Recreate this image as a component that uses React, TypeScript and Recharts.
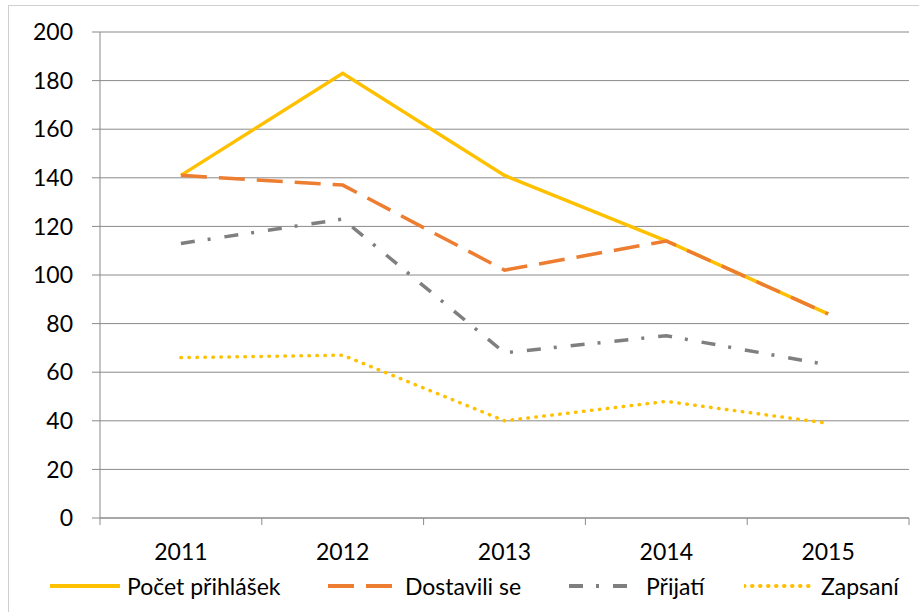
import React from 'react'
import { LineChart, Line, XAxis, YAxis, CartesianGrid } from 'recharts'

const years = ['2011', '2012', '2013', '2014', '2015']
const prihlasky = [141, 183, 141, 114, 84]
const dostavili = [141, 137, 102, 114, 84]
const prijati = [113, 123, 68, 75, 63]
const zapsani = [66, 67, 40, 48, 39]
const yTicks = [0, 20, 40, 60, 80, 100, 120, 140, 160, 180, 200]

const W = 919
const H = 612
const FONT = 'Lato, "Open Sans", sans-serif'
const FS = 23
const AXIS = '#8a8a8a'

const SERIES = [
  { key: 'prihlasky', label: 'Počet přihlášek', color: '#FFC000', dash: undefined, cap: 'butt' },
  { key: 'dostavili', label: 'Dostavili se', color: '#ED7D31', dash: '26 12', cap: 'butt' },
  { key: 'prijati', label: 'Přijatí', color: '#7F7F7F', dash: '14 13 3 14', cap: 'butt' },
  { key: 'zapsani', label: 'Zapsaní', color: '#FFC000', dash: '0.5 7.5', cap: 'round' },
] as const

const rows = years.map((y, i) => ({
  year: y,
  prihlasky: prihlasky[i],
  dostavili: dostavili[i],
  prijati: prijati[i],
  zapsani: zapsani[i],
}))

// plot spans x 100..909, so each category band is 161.8 wide
const PLOT_L = 100
const PLOT_R = 909
const HALF_BAND = (PLOT_R - PLOT_L) / years.length / 2

function YearTick({ x, y, payload, index }: any) {
  const last = index === years.length - 1
  return (
    <g>
      <line x1={x - HALF_BAND} y1={y} x2={x - HALF_BAND} y2={y + 7} stroke={AXIS} />
      {last && <line x1={x + HALF_BAND} y1={y} x2={x + HALF_BAND} y2={y + 7} stroke={AXIS} />}
      <text x={x} y={y + 42} textAnchor="middle" fontSize={FS} fontFamily={FONT} fill="#000">{payload.value}</text>
    </g>
  )
}

const legendPos = [50, 328, 569, 744]

export default function App() {
  return (
    <div style={{ position: 'fixed', left: 0, top: 0, width: W, height: H, background: '#fff', overflow: 'hidden' }}>
      <div style={{ position: 'absolute', left: 8, top: 5, width: 1200, height: 900, borderTop: '1px solid #cfcfcf', borderLeft: '1px solid #cfcfcf' }} />
      <div style={{ position: 'absolute', left: 0, top: 0 }}>
        <LineChart width={W} height={H} data={rows} margin={{ top: 32, right: W - PLOT_R, bottom: 0, left: 0 }}>
          <CartesianGrid vertical={false} stroke={AXIS} strokeWidth={1} />
          <XAxis
            dataKey="year"
            height={94}
            padding={{ left: HALF_BAND, right: HALF_BAND }}
            axisLine={{ stroke: AXIS }}
            tickLine={false}
            tickSize={0}
            tickMargin={0}
            interval={0}
            tick={<YearTick />}
          />
          <YAxis
            width={PLOT_L}
            domain={[0, 200]}
            ticks={yTicks}
            interval={0}
            axisLine={{ stroke: AXIS }}
            tickLine={{ stroke: AXIS }}
            tickSize={8}
            tickMargin={19}
            tick={{ fontSize: FS, fontFamily: FONT, fill: '#000' }}
          />
          {SERIES.map(s => (
            <Line
              key={s.key}
              dataKey={s.key}
              type="linear"
              stroke={s.color}
              strokeWidth={3.5}
              strokeDasharray={s.dash}
              strokeLinecap={s.cap}
              dot={false}
              activeDot={false}
              isAnimationActive={false}
            />
          ))}
        </LineChart>
      </div>
      {SERIES.map((s, i) => (
        <div key={s.key} style={{ position: 'absolute', left: legendPos[i], top: 570, height: 32, display: 'flex', alignItems: 'center', fontFamily: FONT, fontSize: FS, color: '#000', whiteSpace: 'nowrap' }}>
          <svg width={70} height={10} style={{ marginRight: 7 }}>
            <line x1={0} y1={5} x2={70} y2={5} stroke={s.color} strokeWidth={4} strokeDasharray={s.dash} strokeLinecap={s.cap} />
          </svg>
          <span>{s.label}</span>
        </div>
      ))}
    </div>
  )
}
